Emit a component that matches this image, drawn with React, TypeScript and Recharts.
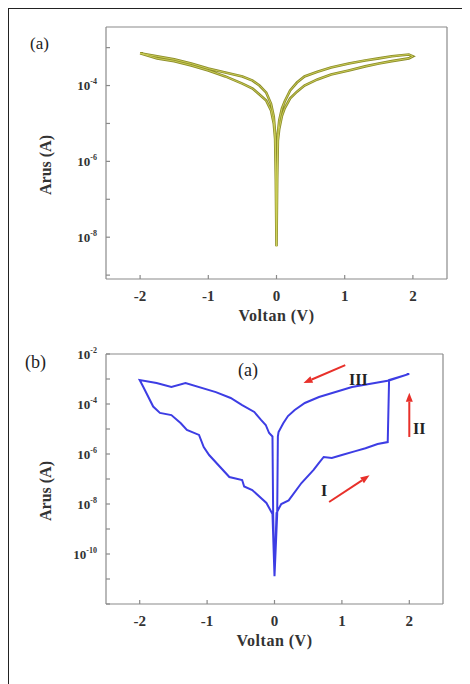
import { CartesianGrid, Line, LineChart, ReferenceLine, XAxis, YAxis } from 'recharts'

// panel (a): one sweep 0 -> 2 -> 0 -> -2 -> 0
const voltageA = [
  0, 0.01, 0.02, 0.04, 0.08, 0.12, 0.2, 0.3, 0.41, 0.6, 0.8, 1.06, 1.3, 1.5, 1.69, 1.94, 2.0,
  1.94, 1.69, 1.5, 1.3, 1.06, 0.8, 0.6, 0.41, 0.3, 0.2, 0.12, 0.08, 0.04, 0.02, 0.01, 0,
  -0.01, -0.02, -0.04, -0.08, -0.15, -0.25, -0.35, -0.5, -0.75, -1, -1.25, -1.5, -1.75, -2,
  -1.75, -1.5, -1.25, -1, -0.75, -0.5, -0.35, -0.25, -0.15, -0.08, -0.04, -0.02, -0.01, 0
]
const currentA = [
  5.8e-9, 3.4e-7, 3.5e-6, 7.2e-6, 1.6e-5, 2.5e-5, 4.6e-5, 6.9e-5, 1.0e-4, 1.45e-4, 1.95e-4, 2.5e-4, 3.2e-4, 3.8e-4, 4.4e-4, 5.2e-4, 5.9e-4,
  6.6e-4, 5.9e-4, 5.2e-4, 4.6e-4, 3.8e-4, 3.0e-4, 2.3e-4, 1.74e-4, 1.2e-4, 7.4e-5, 3.8e-5, 2.5e-5, 1.2e-5, 5.4e-6, 6.3e-7, 5.8e-9,
  6.3e-7, 5.4e-6, 1.5e-5, 3.3e-5, 6.5e-5, 1.0e-4, 1.35e-4, 1.74e-4, 2.2e-4, 2.8e-4, 3.8e-4, 4.9e-4, 5.9e-4, 7.1e-4,
  5.2e-4, 4.4e-4, 3.4e-4, 2.5e-4, 1.74e-4, 1.12e-4, 8.3e-5, 5.8e-5, 4.0e-5, 2.2e-5, 1.0e-5, 3.9e-6, 3.4e-7, 5.8e-9
]

// panel (b): I (low state) -> II (set) -> III (high state) -> negative side
const voltageB = [
  0, 0.03, 0.1, 0.21, 0.4, 0.58, 0.66, 0.73, 0.85, 1.0, 1.2, 1.35, 1.53, 1.68, 1.7, 2.0,
  1.7, 1.15, 0.66, 0.45, 0.3, 0.2, 0.13, 0.06, 0.05, 0.04, 0, -0.02, -0.03,
  -0.08, -0.13, -0.2, -0.3, -0.48, -0.65, -0.87, -1.32, -1.53, -1.75, -2.0,
  -1.95, -1.8, -1.7, -1.53, -1.39, -1.3, -1.12, -1.05, -0.97, -0.67, -0.48, -0.45, -0.33, -0.12, -0.03, 0
]
const currentB = [
  1.3e-11, 4.4e-9, 1.0e-8, 1.4e-8, 6.9e-8, 2.3e-7, 4.4e-7, 7.6e-7, 6.9e-7, 9.1e-7, 1.3e-6, 1.7e-6, 2.5e-6, 3.0e-6, 9.1e-4, 1.6e-3,
  8.7e-4, 4.8e-4, 1.9e-4, 1.1e-4, 5.8e-5, 3.3e-5, 1.7e-5, 7.6e-6, 5.0e-6, 4.0e-9, 1.3e-11, 4.0e-9, 5.0e-6,
  6.9e-6, 1.45e-5, 2.3e-5, 4.8e-5, 9.1e-5, 1.74e-4, 3.0e-4, 6.9e-4, 4.8e-4, 6.9e-4, 9.1e-4,
  5.0e-4, 7.9e-5, 4.4e-5, 3.6e-5, 1.7e-5, 9.1e-6, 5.8e-6, 1.9e-6, 9.1e-7, 1.2e-7, 9.1e-8, 5.0e-8, 3.6e-8, 1.1e-8, 4.0e-9, 1.3e-11
]

const voltRange = [-2.5, 2.5]
const voltTicks = [-2, -1, 0, 1, 2]
const rangeA = [7.9e-10, 3.5e-3]
const rangeB = [1e-12, 1e-2]
const decadeTicksA = [1e-9, 1e-8, 1e-7, 1e-6, 1e-5, 1e-4, 1e-3]
const decadeTicksB = [1e-12, 1e-11, 1e-10, 1e-9, 1e-8, 1e-7, 1e-6, 1e-5, 1e-4, 1e-3, 1e-2]
const labelledA = [-4, -6, -8]
const labelledB = [-2, -4, -6, -8, -10]

const dataA = voltageA.map((v, i) => ({ v, i: currentA[i] }))
const dataB = voltageB.map((v, i) => ({ v, i: currentB[i] }))

const serif = '"Liberation Serif", "DejaVu Serif", serif'
const ink = '#333'
const axisGray = '#8a8a8a'

const PowTick = (props: any) => {
  const { x, y, payload, labelled } = props
  const e = Math.round(Math.log10(payload.value))
  if (!labelled.includes(e)) return <g />
  return (
    <text x={x} y={y} dy="0.35em" textAnchor="end" fontFamily={serif} fontWeight="bold" fontSize={13} fill={ink}>
      <tspan>10</tspan>
      <tspan dy={-6} fontSize={8}>{e}</tspan>
    </text>
  )
}

const YTitle = (props: any) => {
  const vb = props.viewBox || { x: 0, y: 0, width: 98, height: 252 }
  const cx = vb.x + 37
  const cy = vb.y + vb.height / 2 + 12
  return (
    <text x={cx} y={cy} transform={`rotate(-90 ${cx} ${cy})`} textAnchor="middle" dominantBaseline="central"
      fontFamily={serif} fontWeight="bold" fontSize={16} fill={ink}>
      Arus (A)
    </text>
  )
}

const XTitle = (props: any) => {
  const vb = props.viewBox || { x: 98, y: 0, width: 340, height: 59 }
  return (
    <text x={vb.x + vb.width / 2} y={vb.y + 36} textAnchor="middle" dominantBaseline="central"
      fontFamily={serif} fontWeight="bold" fontSize={16} letterSpacing={0.5} fill={ink}>
      Voltan (V)
    </text>
  )
}

const Arrow = (props: any) => {
  const { x1, y1, x2, y2 } = props
  const a = Math.atan2(y2 - y1, x2 - x1)
  const L = 9
  const W = 3.5
  const bx = x2 - L * Math.cos(a)
  const by = y2 - L * Math.sin(a)
  const pts = [
    `${x2},${y2}`,
    `${bx + W * Math.sin(a)},${by - W * Math.cos(a)}`,
    `${bx - W * Math.sin(a)},${by + W * Math.cos(a)}`
  ].join(' ')
  return (
    <g>
      <line x1={x1} y1={y1} x2={bx} y2={by} stroke="#e8302a" strokeWidth={2} />
      <polygon points={pts} fill="#e8302a" />
    </g>
  )
}

// top and right sides of the plot box, drawn as a one-line grid
const topEdge = (p: any) => [p.offset.top]
const rightEdge = (p: any) => [p.offset.left + p.offset.width]

const tickText = { fontFamily: serif, fontWeight: 'bold', fontSize: 15, fill: ink }

const spanStyle = (left: number, top: number, size: number, bold = false): React.CSSProperties => ({
  position: 'absolute', left, top, fontFamily: serif, fontSize: size, lineHeight: 1,
  fontWeight: bold ? 'bold' : 'normal', color: '#222', whiteSpace: 'nowrap'
})

export default function App() {
  return (
    <div style={{ position: 'relative', width: 462, height: 676, background: '#fff' }}>
      <div style={{ position: 'absolute', left: 0, top: 0, width: 458, height: 690,
        borderLeft: '1.5px solid #222', borderTop: '1.5px solid #222', borderRight: '1.5px solid #222' }} />

      <div style={{ position: 'absolute', left: 0, top: 0 }}>
        <LineChart width={462} height={330} data={dataA} margin={{ top: 19, right: 23, bottom: 0, left: 0 }}>
          <CartesianGrid horizontalCoordinatesGenerator={topEdge} verticalCoordinatesGenerator={rightEdge}
            stroke={axisGray} strokeWidth={1.2} />
          <XAxis dataKey="v" type="number" domain={voltRange} ticks={voltTicks} allowDataOverflow
            height={59} tickSize={-4} tickMargin={15} tick={tickText} stroke={axisGray} strokeWidth={1.2}
            label={<XTitle />} />
          <YAxis dataKey="i" type="number" scale="log" domain={rangeA} ticks={decadeTicksA} allowDataOverflow
            width={98} tickSize={-4} tickMargin={13} tick={<PowTick labelled={labelledA} />} stroke={axisGray}
            strokeWidth={1.2} label={<YTitle />} />
          <Line type="linear" dataKey="i" stroke="#8c8c2a" strokeWidth={2.6} dot={false} isAnimationActive={false} />
          <Line type="linear" dataKey="i" stroke="#cfd25a" strokeWidth={0.9} dot={false} isAnimationActive={false} />
        </LineChart>
      </div>

      <div style={{ position: 'absolute', left: 0, top: 330 }}>
        <LineChart width={462} height={325} data={dataB} margin={{ top: 16, right: 27, bottom: 0, left: 0 }}>
          <CartesianGrid horizontalCoordinatesGenerator={topEdge} verticalCoordinatesGenerator={rightEdge}
            stroke={axisGray} strokeWidth={1.2} />
          <XAxis dataKey="v" type="number" domain={voltRange} ticks={voltTicks} allowDataOverflow
            height={59} tickSize={-4} tickMargin={15} tick={tickText} stroke={axisGray} strokeWidth={1.2}
            label={<XTitle />} />
          <YAxis dataKey="i" type="number" scale="log" domain={rangeB} ticks={decadeTicksB} allowDataOverflow
            width={98} tickSize={-4} tickMargin={13} tick={<PowTick labelled={labelledB} />} stroke={axisGray}
            strokeWidth={1.2} label={<YTitle />} />
          <Line type="linear" dataKey="i" stroke="#3d3de4" strokeWidth={2} dot={false} isAnimationActive={false} />
          <ReferenceLine segment={[{ x: 1.05, y: 3.6e-3 }, { x: 0.43, y: 6.9e-4 }]} shape={<Arrow />} />
          <ReferenceLine segment={[{ x: 2.0, y: 4.8e-6 }, { x: 2.0, y: 2.8e-4 }]} shape={<Arrow />} />
          <ReferenceLine segment={[{ x: 0.81, y: 1.2e-8 }, { x: 1.41, y: 1.4e-7 }]} shape={<Arrow />} />
        </LineChart>
      </div>

      <span style={spanStyle(22, 27, 17)}>(a)</span>
      <span style={spanStyle(17, 345, 18)}>(b)</span>
      <span style={spanStyle(230, 353, 18)}>(a)</span>
      <span style={spanStyle(341, 364, 16, true)}>III</span>
      <span style={spanStyle(405, 413, 16, true)}>II</span>
      <span style={spanStyle(313, 475, 16, true)}>I</span>
    </div>
  )
}
